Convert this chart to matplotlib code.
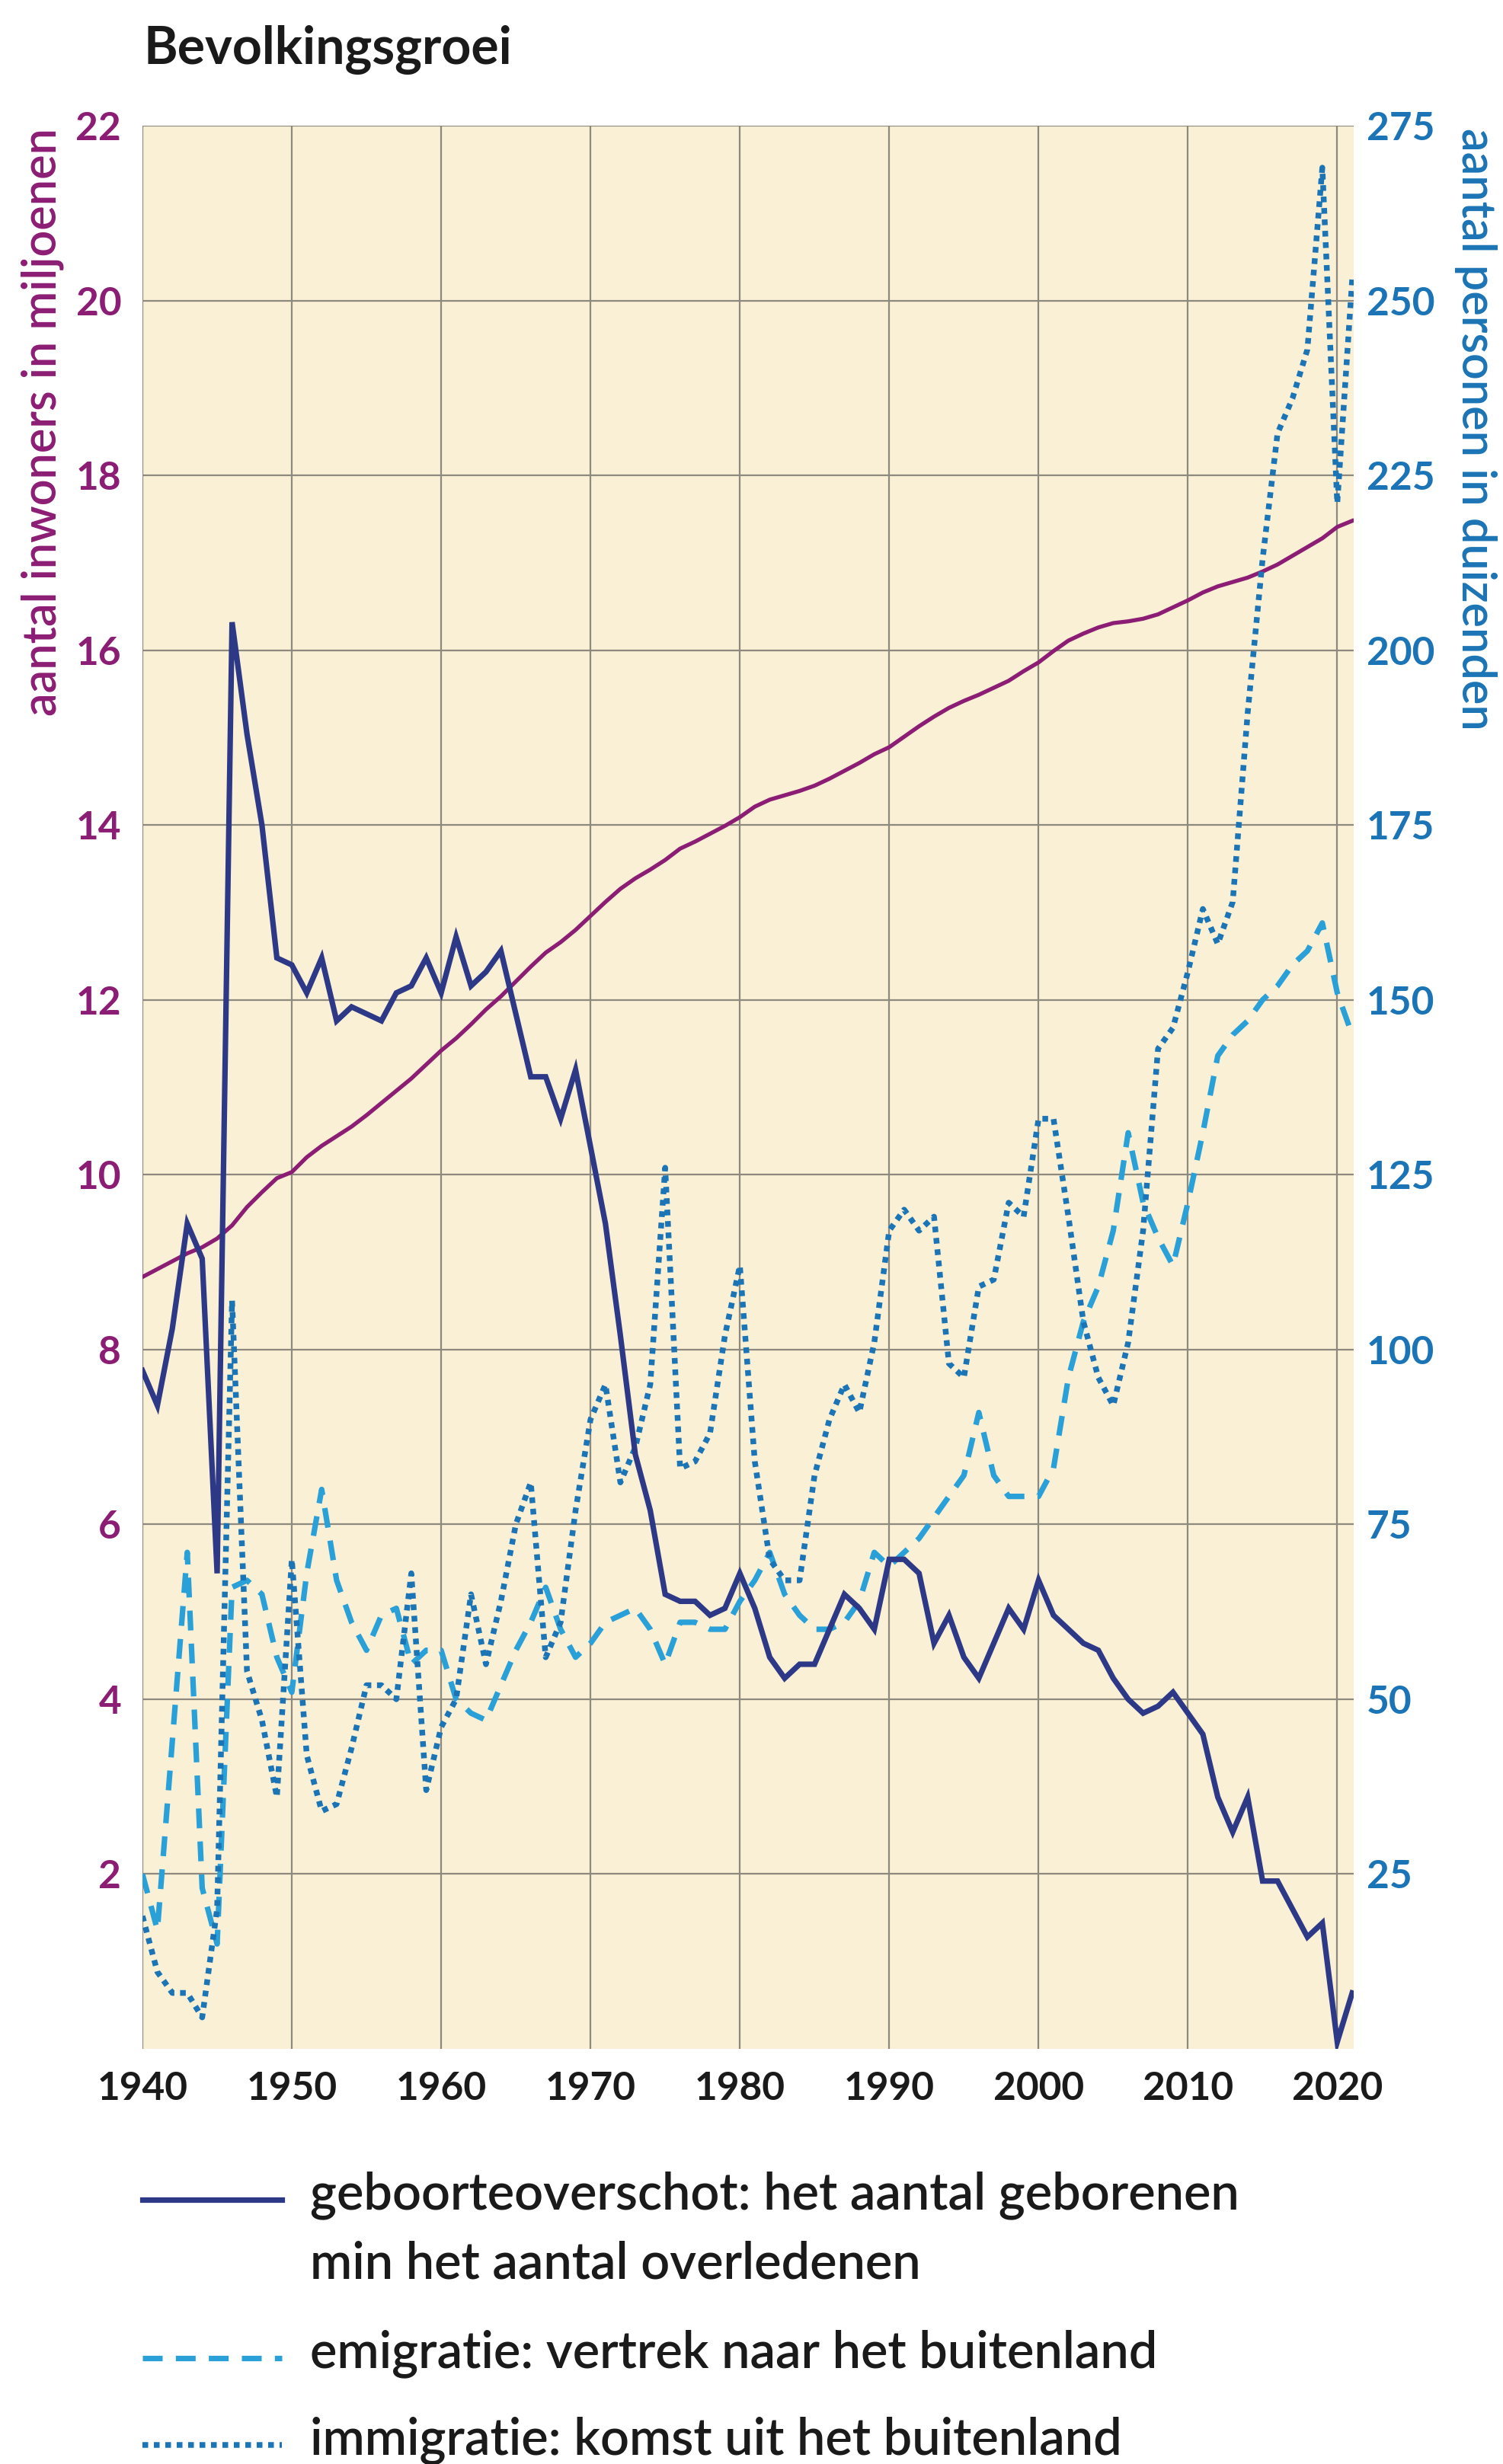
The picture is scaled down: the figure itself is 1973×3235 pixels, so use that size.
import matplotlib
matplotlib.use("Agg")
import matplotlib.pyplot as plt
from matplotlib.lines import Line2D

plt.rcParams['font.family'] = ['Lato', 'DejaVu Sans']

years = list(range(1940, 2022))

# inwoners in miljoenen (linker as)
population = [8.83, 8.92, 9.01, 9.10, 9.17, 9.27, 9.42, 9.63, 9.80, 9.96,
              10.03, 10.20, 10.33, 10.44, 10.55, 10.68, 10.82, 10.96, 11.10, 11.26,
              11.42, 11.56, 11.72, 11.89, 12.04, 12.21, 12.38, 12.54, 12.66, 12.80,
              12.96, 13.12, 13.27, 13.39, 13.49, 13.60, 13.73, 13.81, 13.90, 13.99,
              14.09, 14.21, 14.29, 14.34, 14.39, 14.45, 14.53, 14.62, 14.71, 14.81,
              14.89, 15.01, 15.13, 15.24, 15.34, 15.42, 15.49, 15.57, 15.65, 15.76,
              15.86, 15.99, 16.11, 16.19, 16.26, 16.31, 16.33, 16.36, 16.41, 16.49,
              16.57, 16.66, 16.73, 16.78, 16.83, 16.90, 16.98, 17.08, 17.18, 17.28,
              17.41, 17.48]

# geboorteoverschot in duizenden (rechter as)
birth_surplus = [97, 92, 103, 118, 113, 68, 204, 188, 175, 156,
                 155, 151, 156, 147, 149, 148, 147, 151, 152, 156,
                 151, 159, 152, 154, 157, 148, 139, 139, 133, 140,
                 129, 118, 102, 85, 77, 65, 64, 64, 62, 63,
                 68, 63, 56, 53, 55, 55, 60, 65, 63, 60,
                 70, 70, 68, 58, 62, 56, 53, 58, 63, 60,
                 67, 62, 60, 58, 57, 53, 50, 48, 49, 51,
                 48, 45, 36, 31, 36, 24, 24, 20, 16, 18,
                 1, 8]

# emigratie in duizenden
emigration = [25, 17, 44, 71, 23, 15, 66, 67, 65, 56,
              51, 68, 80, 67, 61, 57, 62, 63, 55, 57,
              57, 50, 48, 47, 52, 57, 61, 66, 60, 56,
              58, 61, 62, 63, 60, 55, 61, 61, 60, 60,
              64, 67, 71, 65, 62, 60, 60, 61, 64, 71,
              69, 71, 73, 76, 79, 82, 91, 82, 79, 79,
              79, 83, 96, 104, 109, 117, 131, 121, 116, 112,
              121, 131, 142, 145, 147, 150, 152, 155, 157, 161,
              151, 145]

# immigratie in duizenden
immigration = [19, 11, 8, 8, 4.5, 20, 107, 54, 47, 36,
               70, 42, 34, 35, 43, 52, 52, 50, 68, 37,
               46, 50, 65, 55, 64, 75, 81, 56, 61, 77,
               90, 95, 81, 86, 95, 126, 83, 84, 88, 102,
               112, 84, 70, 67, 67, 82, 90, 95, 91, 101,
               117, 120, 117, 119, 98, 96, 109, 110, 121, 119,
               133, 133, 119, 104, 96, 92, 101, 117, 143, 146,
               154, 163, 158, 164, 191, 213, 231, 236, 243, 269,
               221, 253]

left_ticks = list(range(2, 23, 2))
right_ticks = list(range(25, 276, 25))
x_ticks = list(range(1940, 2021, 10))

labels = ["geboorteoverschot: het aantal geborenen\nmin het aantal overledenen",
          "emigratie: vertrek naar het buitenland",
          "immigratie: komst uit het buitenland"]

NAVY = '#2d3987'
PURPLE = '#8c1d74'
LIGHTBLUE = '#2aa0d8'
BLUE = '#1b74b5'
BG = '#faf0d5'
GRID = '#8e897e'

W, H = 1974, 3235

SOLID = dict(color=NAVY, lw=5.2, solid_joinstyle='miter')
DASHED = dict(color=LIGHTBLUE, lw=5.2, dashes=(3.6, 2.4))
DOTTED = dict(color=BLUE, lw=5.4, dashes=(1.0, 1.0))


def fx(px):
    return px / W


def fy(py):
    return 1 - py / H


def main():
    fig = plt.figure(figsize=(W / 100, H / 100), dpi=100)
    left, right, top, bottom = 187, 1777, 165, 2690
    ax = fig.add_axes([fx(left), fy(bottom), fx(right - left), (bottom - top) / H])
    ax2 = ax.twinx()

    ax.set_facecolor(BG)
    ax.plot(years, population, color=PURPLE, lw=3.8, zorder=3)

    ax2.plot(years, birth_surplus, zorder=4, **SOLID)
    ax2.plot(years, emigration, zorder=3, **DASHED)
    ax2.plot(years, immigration, zorder=3, **DOTTED)

    ax.set_xlim(1940, 2021.1)
    ax.set_ylim(0, 22)
    ax2.set_ylim(0, 275)

    ax.set_xticks(x_ticks)
    ax.set_yticks(left_ticks)
    ax2.set_yticks(right_ticks)
    ax.grid(True, color=GRID, lw=1.6)
    ax.set_axisbelow(True)

    for a in (ax, ax2):
        for s in a.spines.values():
            s.set_visible(False)

    ax.tick_params(axis='x', length=0, pad=21, labelsize=37, labelcolor='#1a1a1a')
    ax.tick_params(axis='y', length=0, pad=20, labelsize=37, labelcolor=PURPLE)
    ax2.tick_params(axis='y', length=0, pad=12, labelsize=37, labelcolor=BLUE)
    for lab in ax.get_xticklabels() + ax.get_yticklabels() + ax2.get_yticklabels():
        lab.set_fontweight('bold')

    fig.text(fx(56), fy(168), "aantal inwoners in miljoenen", rotation=90,
             ha='center', va='top', fontsize=44, color=PURPLE, fontweight='semibold')
    fig.text(fx(1937), fy(168), "aantal personen in duizenden", rotation=-90,
             ha='center', va='top', fontsize=44, color=BLUE, fontweight='semibold')

    fig.text(fx(189), fy(66), "Bevolkingsgroei", ha='left', va='center',
             fontsize=49, fontweight='bold', color='#1a1a1a')

    # legenda
    styles = [SOLID, DASHED, DOTTED]
    rows = [2888, 3096, 3210]
    for st, yy, lab in zip(styles, rows, labels):
        fig.add_artist(Line2D([fx(187), fx(370)], [fy(yy), fy(yy)],
                              transform=fig.transFigure, **st))
        fig.text(fx(407), fy(yy - 38), lab, ha='left', va='top', fontsize=48,
                 color='#1a1a1a', linespacing=1.55, fontweight='semibold')

    fig.savefig("out.png", dpi=100, facecolor='white')


if __name__ == "__main__":
    main()
